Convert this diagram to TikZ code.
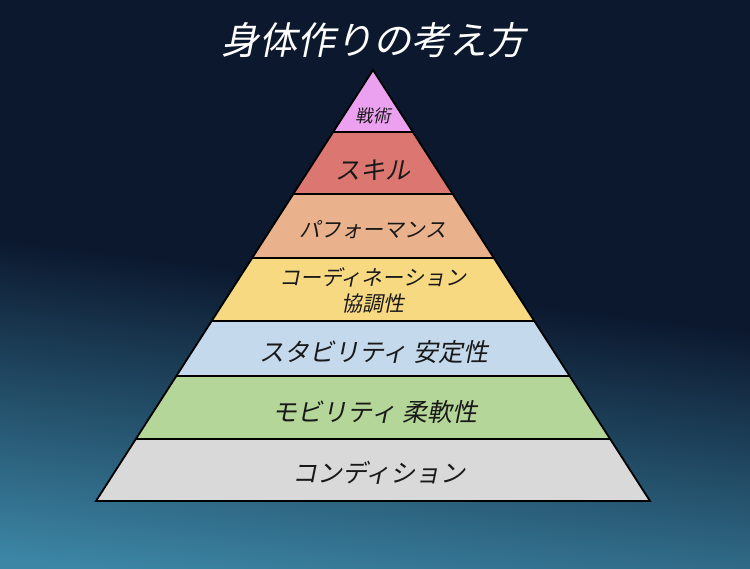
\documentclass[tikz,border=0pt]{standalone}
\usepackage{fontspec}
\newfontfamily\jp[FakeSlant=0.2]{Noto Sans CJK JP}
\usetikzlibrary{%
	calc%
}

\definecolor{bgtop}{RGB}{11,24,46}
\definecolor{bgbot}{RGB}{60,134,165}
\definecolor{tactic}{RGB}{235,160,240}
\definecolor{skill}{RGB}{220,118,112}
\definecolor{perf}{RGB}{234,178,140}
\definecolor{coord}{RGB}{247,217,130}
\definecolor{stab}{RGB}{197,217,237}
\definecolor{mob}{RGB}{180,214,152}
\definecolor{cond}{RGB}{217,217,217}

\pgfdeclareverticalshading{bgshade}{100bp}{color(0bp)=(bgbot); color(23bp)=(bgbot); color(50bp)=(bgtop); color(100bp)=(bgtop)}

\tikzset{
	edge/.style={draw=black, line width=1.8pt, line join=miter},
	lbl/.style={text=black!90, inner sep=0pt, align=center},
}

\begin{document}
\begin{tikzpicture}[x=1pt,y=-1pt]
		% Background
		\shade[shading=bgshade, shading angle=-7] (0,0) rectangle (750,568);
		\useasboundingbox (0,0) rectangle (750,568);
		
		% Title
		\node[lbl, text=white, font=\jp\fontsize{38}{40}\selectfont] (title) at (373,40) {身体作りの考え方};
		
		% Corners
		\coordinate (l0) at (373,70);
		\coordinate (r0) at (373,70);
		\coordinate (l7) at (96,501);
		\coordinate (r7) at (650,501);
		
		% Level points
		\foreach \y [count=\i] in {132,194,258,321,376,439}
		{
			\coordinate (l\i) at ($(l0)!{(\y-70)/431}!(l7)$);
			\coordinate (r\i) at ($(r0)!{(\y-70)/431}!(r7)$);
		}
		
		% Layers
		\foreach \c [count=\i from 0, evaluate=\i as \k using int(\i+1)] in {tactic,skill,perf,coord,stab,mob,cond}
		\fill[\c] (l\i) -- (r\i) -- (r\k) -- (l\k) -- cycle;
		
		% Outline
		\foreach \i in {1,...,6}
		\draw[edge] (l\i) -- (r\i);
		\draw[edge] (l0) -- (r7) -- (l7) -- cycle;
		
		% Labels
		\node[lbl, font=\jp\fontsize{17.5}{20}\selectfont] (tactics) at (373,116) {戦術};
		\node[lbl, font=\jp\fontsize{25}{28}\selectfont] (skills) at (373,170) {スキル};
		\node[lbl, font=\jp\fontsize{21}{24}\selectfont] (performance) at (373,230) {パフォーマンス};
		\node[lbl, font=\jp\fontsize{21}{26}\selectfont] (coordination) at (373,290) {コーディネーション\\協調性};
		\node[lbl, font=\jp\fontsize{25}{28}\selectfont] (stability) at (374,352) {スタビリティ 安定性};
		\node[lbl, font=\jp\fontsize{25}{28}\selectfont] (mobility) at (375,412) {モビリティ 柔軟性};
		\node[lbl, font=\jp\fontsize{25}{28}\selectfont] (condition) at (379,473) {コンディション};
	\end{tikzpicture}
\end{document}
